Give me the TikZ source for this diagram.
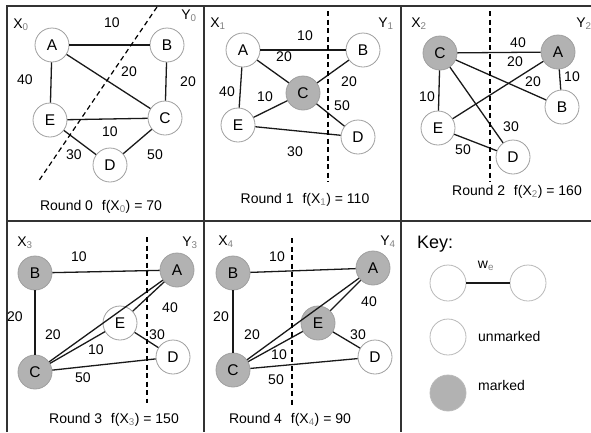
\documentclass[tikz,border=0pt]{standalone}
\usepackage{fontspec}
\setmainfont{Liberation Sans}
\newcommand{\sbs}[1]{\textsubscript{\textcolor{gray}{#1}}}
\begin{document}
\begin{tikzpicture}[x=1pt,y=-1pt,
  vtx/.style={circle,draw=gray!75,line width=0.8pt,fill=white,minimum size=34pt,inner sep=0pt,font=\fontsize{15.5}{17}\selectfont},
  mk/.style={vtx,fill=gray!60},
  kvtx/.style={circle,draw=gray!55,line width=0.8pt,fill=white,minimum size=36pt,inner sep=0pt},
  edg/.style={black!90,line width=1.3pt},
  cut/.style={black,line width=1.2pt,dash pattern=on 5pt off 3.5pt},
  lbl/.style={inner sep=0pt,font=\fontsize{14}{16}\selectfont},
  roundcap/.style={inner sep=0pt,font=\fontsize{14}{16}\selectfont},
  frame/.style={line width=2pt,black!80}]
\useasboundingbox (0,0) rectangle (591,432);
% frame
\draw[frame] (7,432) -- (7,5.5) -- (591,5.5);
\draw[frame] (204,5.5) -- (204,432);
\draw[frame] (401,5.5) -- (401,432);
\draw[frame] (7,221) -- (591,221);

% ---------- Round 0
\node[lbl] (x0) at (21,25) {X\sbs{0}};
\node[lbl] (y0) at (189,16) {Y\sbs{0}};
\node[vtx] (a0) at (52,45) {A};
\node[vtx] (b0) at (167,45) {B};
\node[vtx] (e0) at (50,120) {E};
\node[vtx] (c0) at (165,118) {C};
\node[vtx] (d0) at (110,165) {D};
\draw[edg] (a0) -- (b0);
\draw[edg] (a0) -- (e0);
\draw[edg] (a0) -- (c0);
\draw[edg] (b0) -- (c0);
\draw[edg] (e0) -- (c0);
\draw[edg] (e0) -- (d0);
\draw[edg] (d0) -- (c0);
\coordinate (p0a) at (157,7);
\coordinate (p0b) at (38,182);
\draw[cut] (p0a) -- (p0b);
\node[lbl] (l0ab) at (112,23) {10};
\node[lbl] (l0ae) at (25,80) {40};
\node[lbl] (l0ac) at (129,72) {20};
\node[lbl] (l0bc) at (188,82) {20};
\node[lbl] (l0ec) at (110,132) {10};
\node[lbl] (l0ed) at (74,155) {30};
\node[lbl] (l0dc) at (155,155) {50};
\node[roundcap] (r0) at (101,207) {Round 0\hspace{5pt} f(X\sbs{0}) = 70};

% ---------- Round 1
\node[lbl] (x1) at (218,24) {X\sbs{1}};
\node[lbl] (y1) at (386,24) {Y\sbs{1}};
\node[vtx] (a1) at (243,50) {A};
\node[vtx] (b1) at (363,50) {B};
\node[mk] (c1) at (303,93) {C};
\node[vtx] (e1) at (238,125) {E};
\node[vtx] (d1) at (358,137) {D};
\draw[edg] (a1) -- (b1);
\draw[edg] (a1) -- (c1);
\draw[edg] (a1) -- (e1);
\draw[edg] (b1) -- (c1);
\draw[edg] (c1) -- (e1);
\draw[edg] (c1) -- (d1);
\draw[edg] (e1) -- (d1);
\coordinate (p1a) at (328,11);
\coordinate (p1b) at (328,182);
\draw[cut] (p1a) -- (p1b);
\node[lbl] (l1ab) at (305,36) {10};
\node[lbl] (l1ac) at (284,57) {20};
\node[lbl] (l1ae) at (227,92) {40};
\node[lbl] (l1ce) at (265,97) {10};
\node[lbl] (l1bc) at (349,82) {20};
\node[lbl] (l1cd) at (342,106) {50};
\node[lbl] (l1ed) at (295,152) {30};
\node[roundcap] (r1) at (305,200) {Round 1\hspace{5pt} f(X\sbs{1}) = 110};

% ---------- Round 2
\node[lbl] (x2) at (419,24) {X\sbs{2}};
\node[lbl] (y2) at (584,24) {Y\sbs{2}};
\node[mk] (c2) at (440,53) {C};
\node[mk] (a2) at (558,52) {A};
\node[vtx] (b2) at (562,107) {B};
\node[vtx] (e2) at (438,128) {E};
\node[vtx] (d2) at (513,157) {D};
\draw[edg] (c2) -- (a2);
\draw[edg] (c2) -- (b2);
\draw[edg] (c2) -- (d2);
\draw[edg] (c2) -- (e2);
\draw[edg] (a2) -- (e2);
\draw[edg] (a2) -- (b2);
\draw[edg] (e2) -- (d2);
\coordinate (p2a) at (490,11);
\coordinate (p2b) at (490,182);
\draw[cut] (p2a) -- (p2b);
\node[lbl] (l2ca) at (518,43) {40};
\node[lbl] (l2ae) at (515,62) {20};
\node[lbl] (l2cb) at (533,82) {20};
\node[lbl] (l2ab) at (572,77) {10};
\node[lbl] (l2ce) at (427,97) {10};
\node[lbl] (l2cd) at (511,127) {30};
\node[lbl] (l2ed) at (463,150) {50};
\node[roundcap] (r2) at (517,192) {Round 2\hspace{5pt} f(X\sbs{2}) = 160};

% ---------- Round 3
\node[lbl] (x3) at (25,243) {X\sbs{3}};
\node[lbl] (y3) at (190,243) {Y\sbs{3}};
\node[mk] (b3) at (35,273) {B};
\node[mk] (a3) at (177,270) {A};
\node[vtx] (e3) at (120,323) {E};
\node[vtx] (d3) at (173,357) {D};
\node[mk] (c3) at (35,372) {C};
\draw[edg] (b3) -- (a3);
\draw[edg] (b3) -- (c3);
\draw[edg] (c3) -- (a3);
\draw[edg] (c3) -- (e3);
\draw[edg] (c3) -- (d3);
\draw[edg] (e3) -- (a3);
\draw[edg] (e3) -- (d3);
\coordinate (p3a) at (147,237);
\coordinate (p3b) at (147,403);
\draw[cut] (p3a) -- (p3b);
\node[lbl] (l3ba) at (79,257) {10};
\node[lbl] (l3bc) at (15,317) {20};
\node[lbl] (l3ca) at (53,335) {20};
\node[lbl] (l3ce) at (96,350) {10};
\node[lbl] (l3cd) at (83,378) {50};
\node[lbl] (l3ea) at (170,308) {40};
\node[lbl] (l3ed) at (157,335) {30};
\node[roundcap] (r3) at (114,420) {Round 3\hspace{5pt} f(X\sbs{3}) = 150};

% ---------- Round 4
\node[lbl] (x4) at (226,242) {X\sbs{4}};
\node[lbl] (y4) at (388,242) {Y\sbs{4}};
\node[mk] (b4) at (233,273) {B};
\node[mk] (a4) at (373,268) {A};
\node[mk] (e4) at (318,323) {E};
\node[vtx] (d4) at (375,357) {D};
\node[mk] (c4) at (233,370) {C};
\draw[edg] (b4) -- (a4);
\draw[edg] (b4) -- (c4);
\draw[edg] (c4) -- (a4);
\draw[edg] (c4) -- (e4);
\draw[edg] (c4) -- (d4);
\draw[edg] (e4) -- (a4);
\draw[edg] (e4) -- (d4);
\coordinate (p4a) at (292,238);
\coordinate (p4b) at (292,405);
\draw[cut] (p4a) -- (p4b);
\node[lbl] (l4ba) at (277,257) {10};
\node[lbl] (l4bc) at (221,317) {20};
\node[lbl] (l4ca) at (252,335) {20};
\node[lbl] (l4ce) at (279,355) {10};
\node[lbl] (l4cd) at (276,380) {50};
\node[lbl] (l4ea) at (369,302) {40};
\node[lbl] (l4ed) at (358,335) {30};
\node[roundcap] (r4) at (290,420) {Round 4\hspace{5pt} f(X\sbs{4}) = 90};

% ---------- Key
\node[inner sep=0pt,anchor=west,font=\fontsize{18}{20}\selectfont] (key) at (417,244) {Key:};
\node[kvtx] (k1) at (448,283) {};
\node[kvtx] (k2) at (528,283) {};
\draw[edg] (k1) -- (k2);
\node[lbl] (kw) at (486,266) {w\sbs{e}};
\node[kvtx] (k3) at (448,337) {};
\node[lbl,anchor=west] (ku) at (478,336) {unmarked};
\node[kvtx,fill=gray!60] (k4) at (448,393) {};
\node[lbl,anchor=west] (km) at (478,385) {marked};
\end{tikzpicture}
\end{document}
